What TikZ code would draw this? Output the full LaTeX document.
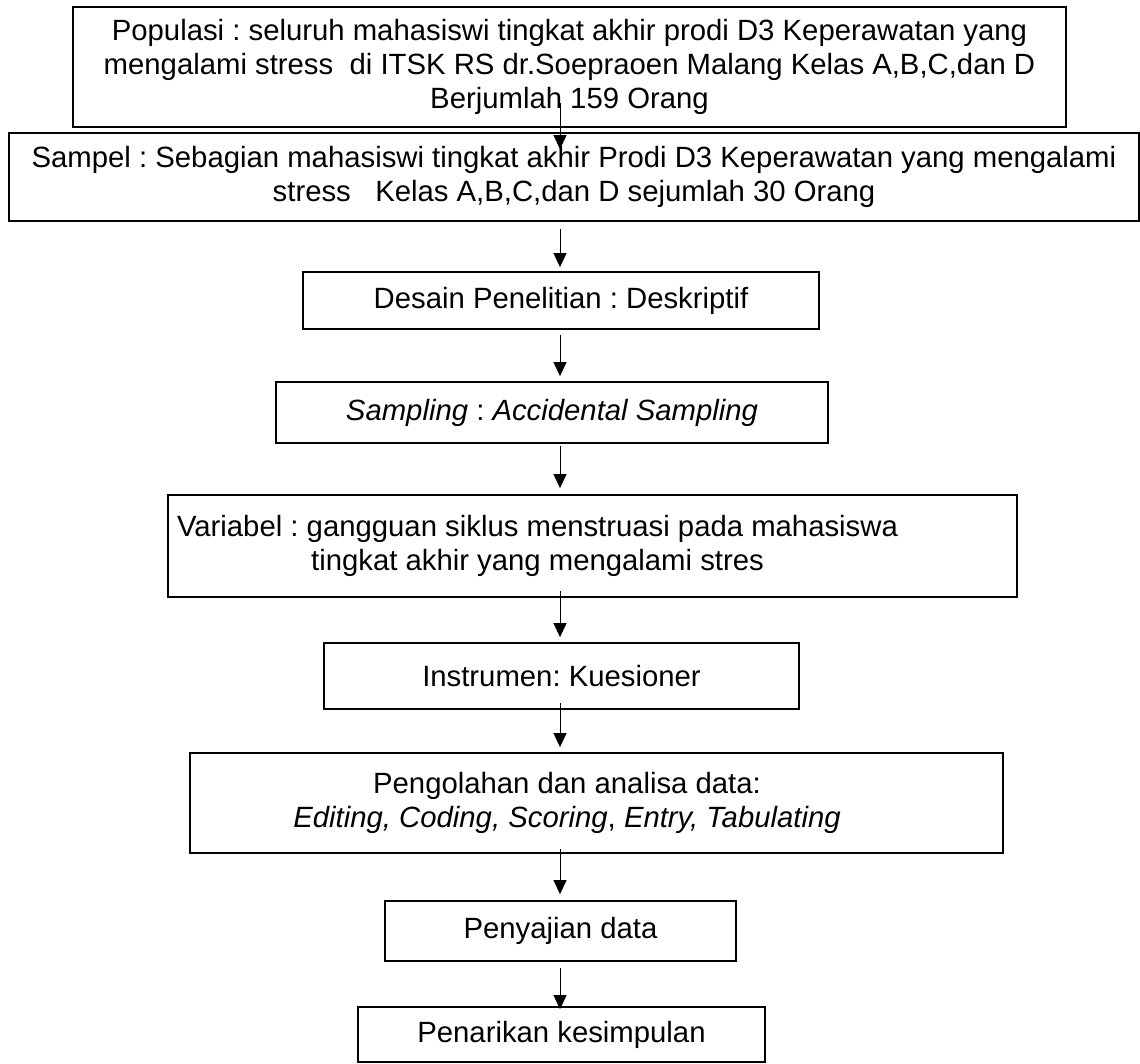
\documentclass[tikz,border=0pt]{standalone}
\usepackage{fontspec}
\setmainfont{Liberation Sans}
\usetikzlibrary{arrows.meta}
\frenchspacing
\begin{document}
\begin{tikzpicture}[x=0.5pt,y=-0.5pt,
  boxfont/.style={font=\fontsize{14.65}{16.85}\selectfont},
  box/.style={draw=black, line width=0.9pt, inner sep=0pt, align=center, boxfont},
  boxtext/.style={align=center, inner sep=0pt, boxfont},
  arrow/.style={-{Triangle[width=6.5pt,length=7pt]}, line width=0.5pt}]
\useasboundingbox[fill=white] (0,0) rectangle (1140,1064);
% boxes
\node[box, minimum width=496.5pt, minimum height=60pt] (pop) at (569.5,67)
  {Populasi : seluruh mahasiswi tingkat akhir prodi D3 Keperawatan yang\\
   mengalami stress\ \ di ITSK RS dr.Soepraoen Malang Kelas A,B,C,dan D\\
   Berjumlah 159 Orang};
\node[box, minimum width=565pt, minimum height=44pt] (sam) at (574,177)
  {Sampel : Sebagian mahasiswi tingkat akhir Prodi D3 Keperawatan yang mengalami\\
   stress\ \ \ Kelas A,B,C,dan D sejumlah 30 Orang};
\node[box, minimum width=258pt, minimum height=28.5pt] (des) at (561,300.5)
  {Desain Penelitian : Deskriptif};
\node[box, minimum width=276pt, minimum height=30.5pt] (smp) at (552,412.5)
  {\textit{Sampling} : \textit{Accidental Sampling}};
\node[box, minimum width=424.5pt, minimum height=51pt,
  label={[boxtext, xshift=-27.5pt]center:{Variabel : gangguan siklus menstruasi pada mahasiswa\\
   tingkat akhir yang mengalami stres}}] (var) at (592.5,546) {};
\node[box, minimum width=237.5pt, minimum height=33pt] (ins) at (561.5,676)
  {Instrumen: Kuesioner};
\node[box, minimum width=406.5pt, minimum height=50pt,
  label={[boxtext, xshift=-14.75pt]center:{Pengolahan dan analisa data:\\
   \textit{Editing, Coding, Scoring}, \textit{Entry, Tabulating}}}] (olah) at (596.5,803) {};
\node[box, minimum width=175.5pt, minimum height=30pt] (saji) at (560.5,931)
  {Penyajian data};
\node[box, minimum width=203.5pt, minimum height=27.5pt] (tarik) at (561.5,1034.5)
  {Penarikan kesimpulan};
% arrows
\coordinate (axis) at (560,0);
\draw[arrow, shorten <=-12.5pt, shorten >=-8.5pt] (pop.south -| axis) -- (sam.north -| axis);
\draw[arrow, shorten <=3.5pt, shorten >=2pt] (sam.south -| axis) -- (des.north -| axis);
\draw[arrow, shorten <=2.5pt, shorten >=2.5pt] (des.south -| axis) -- (smp.north -| axis);
\draw[arrow, shorten <=1pt, shorten >=3pt] (smp.south -| axis) -- (var.north -| axis);
\draw[arrow, shorten <=-3.5pt, shorten >=2.5pt] (var.south -| axis) -- (ins.north -| axis);
\draw[arrow, shorten <=-3.5pt, shorten >=2.5pt] (ins.south -| axis) -- (olah.north -| axis);
\draw[arrow, shorten <=-2.5pt, shorten >=3pt] (olah.south -| axis) -- (saji.north -| axis);
\draw[arrow, shorten <=3pt, shorten >=-1.5pt] (saji.south -| axis) -- (tarik.north -| axis);
\end{tikzpicture}
\end{document}
